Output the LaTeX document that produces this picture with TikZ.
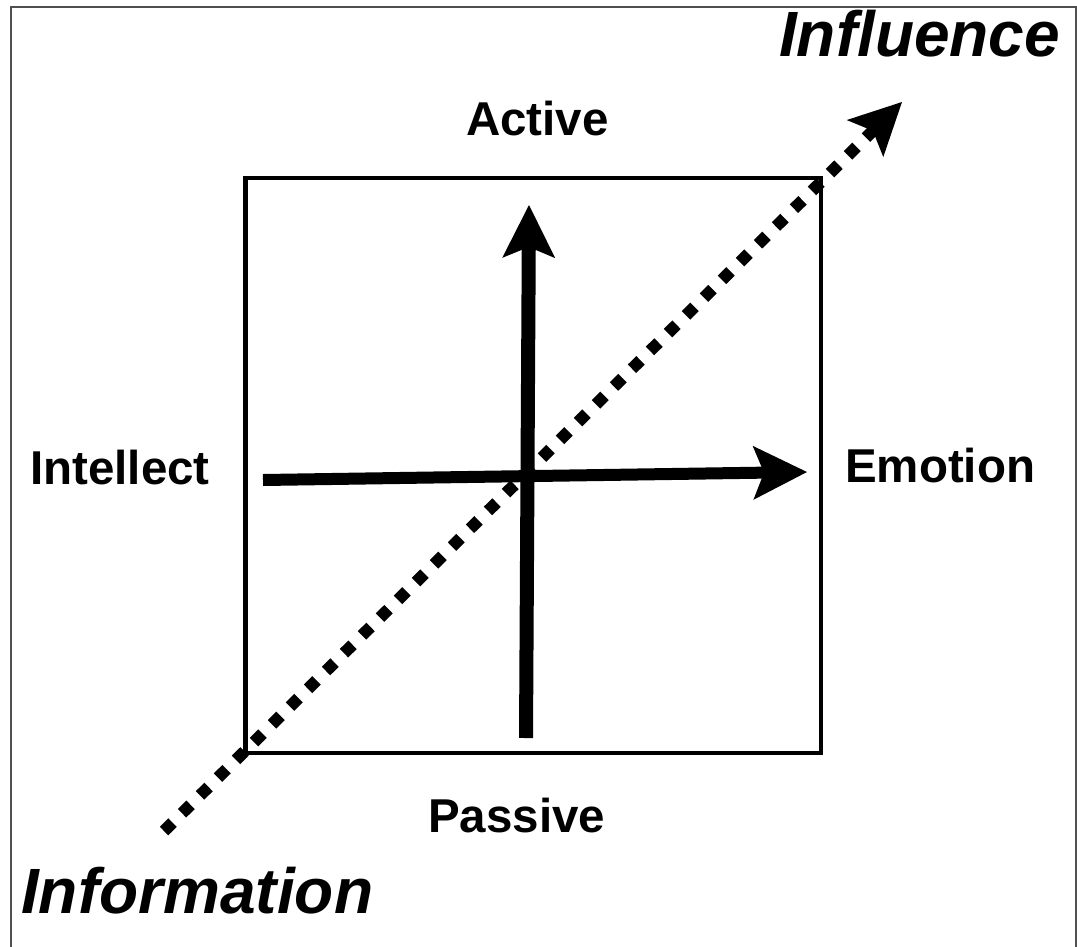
\documentclass[tikz,border=0pt]{standalone}
\usepackage{fontspec}
\setmainfont{Liberation Sans}
\usetikzlibrary{arrows.meta}
\begin{document}
\begin{tikzpicture}[x=1pt,y=-1pt,
  axislabel/.style={font=\bfseries\fontsize{47.5}{47.5}\selectfont, inner sep=0pt, anchor=base west},
  endlabel/.style={font=\bfseries\itshape\fontsize{64}{64}\selectfont, inner sep=0pt, anchor=base west},
  bigtip/.style={-{Stealth[length=#1, width=#1, inset=11pt, line width=0pt]}},
  axisline/.style={line width=#1, line cap=butt},
  dotline/.style={line width=12pt, dash pattern=on 12pt off 13.3pt}
]
% page and frame
\fill[white] (0,0) rectangle (1077,946);
\useasboundingbox (0,0) rectangle (1077,946);
\draw[line width=2pt, draw={rgb,255:red,80;green,80;blue,80}] (11,7) rectangle (1076,990);

% central square
\draw[line width=4.5pt] (245.5,178) rectangle (821,753);

% anchor points of the connectors
\coordinate (vbot) at (526,738);
\coordinate (vtop) at (529,205);
\coordinate (hleft) at (263,480);
\coordinate (hright) at (807,472);
\coordinate (dstart) at (164,831);
\coordinate (dend) at (902,102);

% axes
\draw[axisline=14pt, bigtip=53pt] (vbot) -- (vtop);
\draw[axisline=12pt, bigtip=54pt] (hleft) -- (hright);
\draw[dotline, bigtip=52pt] (dstart) -- (dend);

% labels
\node[axislabel] (active) at (466,135) {Active};
\node[axislabel] (passive) at (428,832) {Passive};
\node[axislabel] (intellect) at (30,484) {Intellect};
\node[axislabel] (emotion) at (845,482) {Emotion};
\node[endlabel] (influence) at (779,56) {Influence};
\node[endlabel] (information) at (21,913) {Information};
\end{tikzpicture}
\end{document}
